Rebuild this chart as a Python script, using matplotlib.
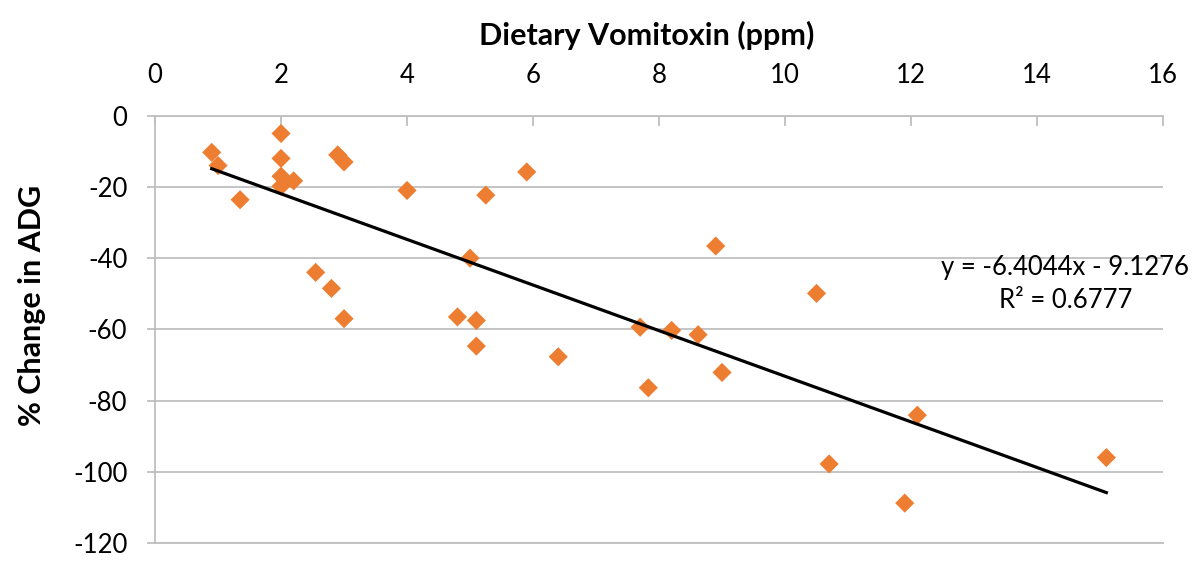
import numpy as np
import matplotlib
matplotlib.use('Agg')
import matplotlib.pyplot as plt

# dietary vomitoxin (ppm) vs % change in ADG
vomitoxin = [0.9, 1.0, 1.35, 2.0, 2.0, 2.0, 2.0, 2.2, 2.9, 3.0,
             2.55, 2.8, 3.0, 4.0, 4.8, 5.0, 5.1, 5.1, 5.25, 5.9,
             6.4, 7.7, 7.83, 8.2, 8.62, 8.9, 9.0, 10.5, 10.7, 11.9,
             12.1, 15.1]
adg_change = [-10.3, -14.0, -23.6, -5.0, -12.0, -17.0, -19.8, -18.3, -11.0, -13.0,
              -44.0, -48.5, -57.0, -21.0, -56.5, -40.0, -57.5, -64.7, -22.3, -15.8,
              -67.7, -59.4, -76.4, -60.3, -61.5, -36.6, -72.1, -49.9, -97.8, -108.8,
              -84.1, -96.0]

slope = -6.4044
intercept = -9.1276
r2 = 0.6777

x_ticks = np.arange(0, 17, 2)
y_ticks = np.arange(-120, 1, 20)

plt.rcParams['font.family'] = ['Lato', 'DejaVu Sans']
plt.rcParams['axes.unicode_minus'] = False

fig = plt.figure(figsize=(12, 5.71), dpi=100)
ax = fig.add_axes([0.1292, 0.049, 0.8400, 0.7484])

grid_col = '#bfbfbf'
ax.set_xlim(0, 16)
ax.set_ylim(-120, 0)
ax.set_xticks(x_ticks)
ax.set_yticks(y_ticks)
ax.yaxis.grid(True, color=grid_col, linewidth=1.3)
ax.set_axisbelow(True)

ax.spines['right'].set_visible(False)
for side in ['top', 'left', 'bottom']:
    ax.spines[side].set_color(grid_col)
    ax.spines[side].set_linewidth(1.3)

ax.xaxis.tick_top()
ax.xaxis.set_label_position('top')
ax.tick_params(axis='x', direction='in', length=7, width=1.3, color=grid_col,
               pad=20, labelsize=18.5)
ax.tick_params(axis='y', direction='out', length=6, width=1.3, color=grid_col,
               pad=14, labelsize=18.5)

ax.scatter(vomitoxin, adg_change, marker='D', s=95, color='#ED7D31',
           edgecolors='none', zorder=3)

xs = np.array([min(vomitoxin), max(vomitoxin)])
ax.plot(xs, slope * xs + intercept, color='black', linewidth=2.3, zorder=4)

ax.text(14.45, -47.3, f'y = {slope}x - {abs(intercept)}\nR² = {r2}',
        ha='center', va='center', fontsize=18.5, linespacing=1.4)

ax.set_xlabel('Dietary Vomitoxin (ppm)', fontsize=22, fontweight='bold')
ax.set_ylabel('% Change in ADG', fontsize=22, fontweight='bold')
ax.xaxis.set_label_coords(0.488, 1.166)
ax.yaxis.set_label_coords(-0.108, 0.557)

fig.savefig('out.png', dpi=100)
